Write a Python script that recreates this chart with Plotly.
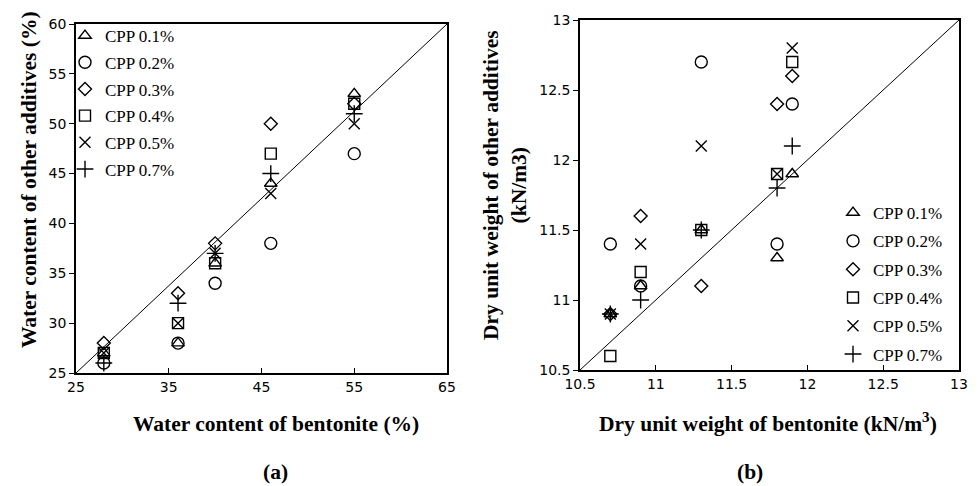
import plotly.graph_objects as go

# ---------------- data ----------------
series_names = ["CPP 0.1%", "CPP 0.2%", "CPP 0.3%", "CPP 0.4%", "CPP 0.5%", "CPP 0.7%"]
symbols = ["triangle-up-open", "circle-open", "diamond-open", "square-open", "x-thin-open", "cross-thin-open"]

wc_bentonite = [28, 36, 40, 46, 55]
wc_01 = [27, 28, 36, 44, 53]
wc_02 = [26, 28, 34, 38, 47]
wc_03 = [28, 33, 38, 50, 52]
wc_04 = [27, 30, 36, 47, 52]
wc_05 = [27, 30, 37, 43, 50]
wc_07 = [26, 32, 37, 45, 51]

du_bentonite = [10.7, 10.9, 11.3, 11.8, 11.9]
du_01 = [10.9, 11.1, 11.5, 11.3, 11.9]
du_02 = [11.4, 11.1, 12.7, 11.4, 12.4]
du_03 = [10.9, 11.6, 11.1, 12.4, 12.6]
du_04 = [10.6, 11.2, 11.5, 11.9, 12.7]
du_05 = [10.9, 11.4, 12.1, 11.9, 12.8]
du_07 = [10.9, 11.0, 11.5, 11.8, 12.1]

wc_x_range = [25, 65]
wc_y_range = [25, 60]
du_range = [10.5, 13]

wc_series = [wc_01, wc_02, wc_03, wc_04, wc_05, wc_07]
du_series = [du_01, du_02, du_03, du_04, du_05, du_07]

# ---------------- figure ----------------
fig = go.Figure()
sizes = [11, 12, 10, 11, 11, 12]

for name, sym, ys, sz in zip(series_names, symbols, wc_series, sizes):
    fig.add_trace(go.Scatter(
        x=wc_bentonite, y=ys, mode="markers", name=name,
        marker=dict(symbol=sym, size=sz, color="black", line=dict(width=1.4, color="black")),
        xaxis="x", yaxis="y", legend="legend", legendgroup="a" + name,
    ))
for name, sym, ys, sz in zip(series_names, symbols, du_series, sizes):
    fig.add_trace(go.Scatter(
        x=du_bentonite, y=ys, mode="markers", name=name,
        marker=dict(symbol=sym, size=sz, color="black", line=dict(width=1.4, color="black")),
        xaxis="x2", yaxis="y2", legend="legend2", legendgroup="b" + name,
    ))

# diagonal reference lines (corner to corner)
fig.add_shape(type="line", xref="x", yref="y",
              x0=wc_x_range[0], y0=wc_y_range[0], x1=wc_x_range[1], y1=wc_y_range[1],
              line=dict(color="black", width=1))
fig.add_shape(type="line", xref="x2", yref="y2",
              x0=du_range[0], y0=du_range[0], x1=du_range[1], y1=du_range[1],
              line=dict(color="black", width=1))

W, H = 979, 486
tickfont = dict(family="DejaVu Sans", size=14, color="black")
axis_common = dict(showgrid=False, zeroline=False, showline=True, linecolor="black",
                   linewidth=1.6, mirror=True, tickfont=tickfont, ticklen=5,
                   tickwidth=1.2, tickcolor="black", automargin=False)

legend_font = dict(family="Liberation Serif", size=17, color="black")
fig.update_layout(
    template="none",
    width=W, height=H,
    margin=dict(l=0, r=0, t=0, b=0, pad=0, autoexpand=False),
    paper_bgcolor="white", plot_bgcolor="white",
    showlegend=True,
    xaxis=dict(domain=[76 / W, 447 / W], range=wc_x_range, tick0=25, dtick=10, ticks="inside",
               anchor="y", **axis_common),
    yaxis=dict(domain=[(H - 373) / H, (H - 24) / H], range=wc_y_range, dtick=5, ticks="outside",
               anchor="x", **axis_common),
    xaxis2=dict(domain=[580 / W, 959 / W], range=du_range, dtick=0.5, ticks="inside",
                anchor="y2", **axis_common),
    yaxis2=dict(domain=[(H - 370) / H, (H - 20) / H], range=du_range, dtick=0.5, ticks="outside",
                anchor="x2", **axis_common),
    legend=dict(x=65 / W, y=1 - 18 / H, xanchor="left", yanchor="top",
                bgcolor="rgba(0,0,0,0)", font=legend_font, borderwidth=0,
                tracegroupgap=1.6, itemwidth=30),
    legend2=dict(x=833 / W, y=1 - 195 / H, xanchor="left", yanchor="top",
                 bgcolor="rgba(0,0,0,0)", font=legend_font, borderwidth=0,
                 tracegroupgap=3.2, itemwidth=30),
)

title_font = dict(family="Liberation Serif", size=21.5, color="black")
annotations = [
    dict(text="<b>Water content of bentonite (%)</b>", x=276 / W, y=1 - 424 / H),
    dict(text="<b>Water content of other additives (%)</b>", x=29 / W, y=1 - 180 / H, textangle=-90),
    dict(text="<b>Dry unit weight of bentonite (kN/m<sup>3</sup>)</b>", x=768 / W, y=1 - 422 / H),
    dict(text="<b>Dry unit weight of other additives<br>(kN/m3)</b>", x=505 / W, y=1 - 185 / H, textangle=-90),
    dict(text="<b>(a)</b>", x=275 / W, y=1 - 472 / H),
    dict(text="<b>(b)</b>", x=750 / W, y=1 - 472 / H),
]
for a in annotations:
    fig.add_annotation(xref="paper", yref="paper", showarrow=False, xanchor="center",
                       yanchor="middle", font=title_font, **a)

fig.write_html("out.html", config={"displayModeBar": False},
               post_script="document.body.style.margin='0';document.body.style.padding='0';")
